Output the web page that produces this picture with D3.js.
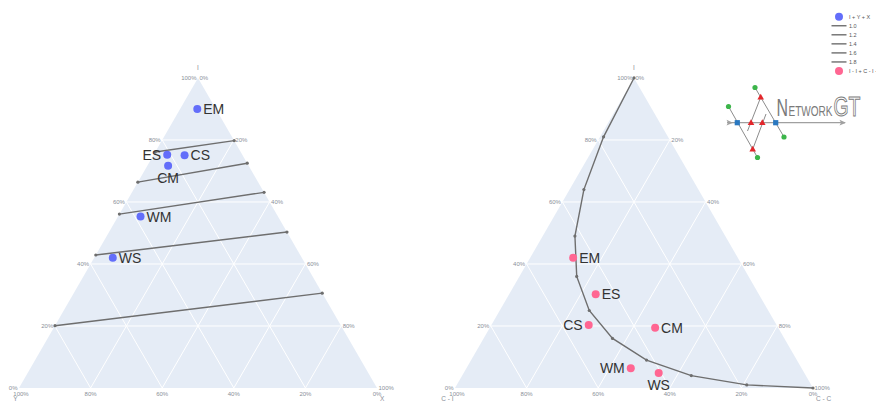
<!DOCTYPE html>
<html><head><meta charset="utf-8">
<script src="https://cdn.jsdelivr.net/npm/d3@7"></script>
<style>html,body{margin:0;padding:0;background:#fff;overflow:hidden}</style>
</head><body><svg id="c" width="876" height="401"></svg>
<script>
// ---------------- data ----------------
const pointLabels = ["EM", "ES", "CS", "CM", "WM", "WS"];
// left panel: I + Y + X node proportions
const nodeI = [0.900, 0.752, 0.751, 0.717, 0.553, 0.420];
const nodeY = [0.052, 0.210, 0.162, 0.225, 0.384, 0.528];
const nodeX = [0.048, 0.038, 0.087, 0.058, 0.063, 0.052];
// connections-per-branch lines (I value where each meets the left (X=0) and right (Y=0) edges)
const cbNames = ["1.0", "1.2", "1.4", "1.6", "1.8"];
const cbLeftI = [0.761, 0.664, 0.561, 0.429, 0.201];
const cbRightI = [0.798, 0.725, 0.631, 0.503, 0.306];
// right panel: I-I + C-I + C-C branch proportions
const branchII = [0.420, 0.302, 0.203, 0.194, 0.064, 0.048];
const branchCI = [0.460, 0.456, 0.525, 0.344, 0.477, 0.407];
const branchCC = [0.120, 0.242, 0.272, 0.462, 0.459, 0.545];
// reference curve on the right panel
const curveII = [1, 0.81, 0.64, 0.49, 0.36, 0.25, 0.16, 0.09, 0.04, 0.01, 0];
const curveCI = [0, 0.18, 0.32, 0.42, 0.48, 0.50, 0.48, 0.42, 0.32, 0.18, 0];
const curveCC = [0, 0.01, 0.04, 0.09, 0.16, 0.25, 0.36, 0.49, 0.64, 0.81, 1];
const tickVals = [0, 0.2, 0.4, 0.6, 0.8, 1];
const legendNames = ["I + Y + X", "1.0", "1.2", "1.4", "1.6", "1.8", "I - I + C - I + C - C"];

// ---------------- drawing ----------------
const svg = d3.select("#c");
const W = 358, H = W * Math.sqrt(3) / 2, BOTTOM = 388;
const fmt = d3.format(".0%");
const BLUE = "#636efa", PINK = "#ff6692", GRAY = "#6e6e6e", TICK = "#8a8f99";
const FONT = "'Liberation Sans', Arial, sans-serif";

function panel(x0, titles) {
  const g = svg.append("g");
  const xs = d3.scaleLinear().domain([0, 1]).range([x0, x0 + W]);
  const ys = d3.scaleLinear().domain([0, 1]).range([BOTTOM, BOTTOM - H]);
  const P = (a, b, c) => [xs(c + a / 2), ys(a)];
  g.append("path").attr("d", d3.line()([P(1,0,0), P(0,1,0), P(0,0,1)]) + "Z").attr("fill", "#e5ecf6");
  const grid = g.append("g").attr("stroke", "#fff").attr("stroke-width", 1).attr("fill", "none");
  tickVals.filter(v => v > 0 && v < 1).forEach(v => {
    grid.append("path").attr("d", d3.line()([P(v, 1 - v, 0), P(v, 0, 1 - v)]));
    grid.append("path").attr("d", d3.line()([P(1 - v, v, 0), P(0, v, 1 - v)]));
    grid.append("path").attr("d", d3.line()([P(1 - v, 0, v), P(0, 1 - v, v)]));
  });
  const t = g.append("g").attr("font-family", FONT).attr("font-size", 6).attr("fill", TICK);
  tickVals.forEach(v => {
    const pa = P(v, 1 - v, 0);
    t.append("text").attr("x", pa[0] - 1.5).attr("y", pa[1] + 2).attr("text-anchor", "end").text(fmt(v));
    const pc = P(1 - v, 0, v);
    t.append("text").attr("x", pc[0] + 1.5).attr("y", pc[1] + 2).attr("text-anchor", "start").text(fmt(v));
    const pb = P(0, v, 1 - v);
    t.append("text").attr("x", pb[0] + (v === 1 ? 2 : 0)).attr("y", BOTTOM + 7.5).attr("text-anchor", "middle").text(fmt(v));
  });
  const tt = g.append("g").attr("font-family", FONT).attr("font-size", 6.5).attr("fill", TICK);
  const apex = P(1, 0, 0);
  tt.append("text").attr("x", apex[0]).attr("y", apex[1] - 8).attr("text-anchor", "middle").text(titles[0]);
  tt.append("text").attr("x", x0 - 1.5).attr("y", BOTTOM + 12.8).attr("text-anchor", "end").text(titles[1]);
  tt.append("text").attr("x", x0 + W + 3).attr("y", BOTTOM + 12.8).attr("text-anchor", "start").text(titles[2]);
  return { g, P };
}

function labels(g, pts, names, pos, color) {
  g.append("g").selectAll("circle").data(pts).join("circle")
    .attr("cx", d => d[0]).attr("cy", d => d[1]).attr("r", 4).attr("fill", color);
  g.append("g").attr("font-family", FONT).attr("font-size", 14).attr("fill", "#333")
    .selectAll("text").data(pts).join("text")
    .attr("x", (d, i) => pos[i] === "right" ? d[0] + 6 : pos[i] === "left" ? d[0] - 6 : d[0])
    .attr("y", (d, i) => pos[i] === "bottom" ? d[1] + 17 : d[1] + 5)
    .attr("text-anchor", (d, i) => pos[i] === "right" ? "start" : pos[i] === "left" ? "end" : "middle")
    .text((d, i) => names[i]);
}

// left panel
const L = panel(19, ["I", "Y", "X"]);
cbNames.forEach((n, i) => {
  const ends = [L.P(cbLeftI[i], 1 - cbLeftI[i], 0), L.P(cbRightI[i], 0, 1 - cbRightI[i])];
  L.g.append("path").attr("d", d3.line()(ends)).attr("stroke", GRAY).attr("stroke-width", 1.4).attr("fill", "none");
  ends.forEach(e => L.g.append("circle").attr("cx", e[0]).attr("cy", e[1]).attr("r", 1.6).attr("fill", GRAY));
});
const leftPts = pointLabels.map((_, i) => L.P(nodeI[i], nodeY[i], nodeX[i]));
labels(L.g, leftPts, pointLabels, ["right", "left", "right", "bottom", "right", "right"], BLUE);

// right panel
const R = panel(455, ["I", "C - I", "C - C"]);
const cpts = curveII.map((v, i) => R.P(v, curveCI[i], curveCC[i]));
R.g.append("path").attr("d", d3.line()(cpts)).attr("stroke", GRAY).attr("stroke-width", 1.4).attr("fill", "none");
R.g.append("g").selectAll("circle").data(cpts).join("circle")
  .attr("cx", d => d[0]).attr("cy", d => d[1]).attr("r", 1.6).attr("fill", GRAY);
const rightPts = pointLabels.map((_, i) => R.P(branchII[i], branchCI[i], branchCC[i]));
labels(R.g, rightPts, pointLabels, ["right", "right", "left", "right", "left", "bottom"], PINK);

// legend
const lg = svg.append("g").attr("font-family", FONT).attr("font-size", 5.5).attr("fill", "#555");
const ly = d3.scalePoint().domain(legendNames).range([16.7, 71]);
legendNames.forEach((n, i) => {
  const y = ly(n);
  if (i === 0 || i === legendNames.length - 1) {
    lg.append("circle").attr("cx", 839).attr("cy", y).attr("r", 4).attr("fill", i === 0 ? BLUE : PINK);
  } else {
    lg.append("line").attr("x1", 831.5).attr("x2", 846.5).attr("y1", y).attr("y2", y).attr("stroke", GRAY).attr("stroke-width", 1.4);
  }
  lg.append("text").attr("x", 849).attr("y", y + 2).text(n);
});

// NetworkGT logo
const lo = svg.append("g");
lo.append("line").attr("x1", 727).attr("x2", 845).attr("y1", 122.7).attr("y2", 122.7).attr("stroke", "#a0a0a0").attr("stroke-width", 1.2);
lo.append("path").attr("d", "M846,122.7 L839.5,119.8 L841,122.7 L839.5,125.6 Z").attr("fill", "#a0a0a0");
lo.append("path").attr("d", "M733,122.7 L726.5,119.8 L728,122.7 L726.5,125.6 Z").attr("fill", "#a0a0a0");
const segs = [[728.5,106.5,757.5,157.5],[755,87.5,784,137],[760.7,97.3,747.5,131],[752.7,149.3,766,114]];
segs.forEach(s => lo.append("line").attr("x1", s[0]).attr("y1", s[1]).attr("x2", s[2]).attr("y2", s[3]).attr("stroke", "#8c8c8c").attr("stroke-width", 1));
[[755,87.5],[728.5,106.5],[784,137],[757.5,157.5]].forEach(p => lo.append("circle").attr("cx", p[0]).attr("cy", p[1]).attr("r", 2.6).attr("fill", "#3cb54a"));
[[751,122.7],[762.3,122.7],[760.7,97.3],[752.7,149.3]].forEach(p => lo.append("path")
  .attr("d", `M${p[0]},${p[1]-3.5} L${p[0]+3.3},${p[1]+2.3} L${p[0]-3.3},${p[1]+2.3} Z`).attr("fill", "#e3262b"));
[[737.3,122.7],[775.7,122.7]].forEach(p => lo.append("rect").attr("x", p[0]-2.6).attr("y", p[1]-2.6).attr("width", 5.2).attr("height", 5.2).attr("fill", "#2a78c0"));
const lt = lo.append("g").attr("fill", "#7a7a7a").attr("font-family", "'Liberation Sans Narrow', 'Liberation Sans', Arial, sans-serif");
lt.append("text").attr("x", 776.5).attr("y", 115.5).attr("font-size", 23).attr("textLength", 11.5).attr("lengthAdjust", "spacingAndGlyphs").text("N");
lt.append("text").attr("x", 788.5).attr("y", 115.5).attr("font-size", 15.5).attr("textLength", 44).attr("lengthAdjust", "spacingAndGlyphs").text("ETWORK");
lt.append("text").attr("x", 833.5).attr("y", 115.5).attr("font-size", 28).attr("fill", "none").attr("stroke", "#7a7a7a").attr("stroke-width", 1)
  .attr("textLength", 27).attr("lengthAdjust", "spacingAndGlyphs").text("GT");
</script>
</body></html>
